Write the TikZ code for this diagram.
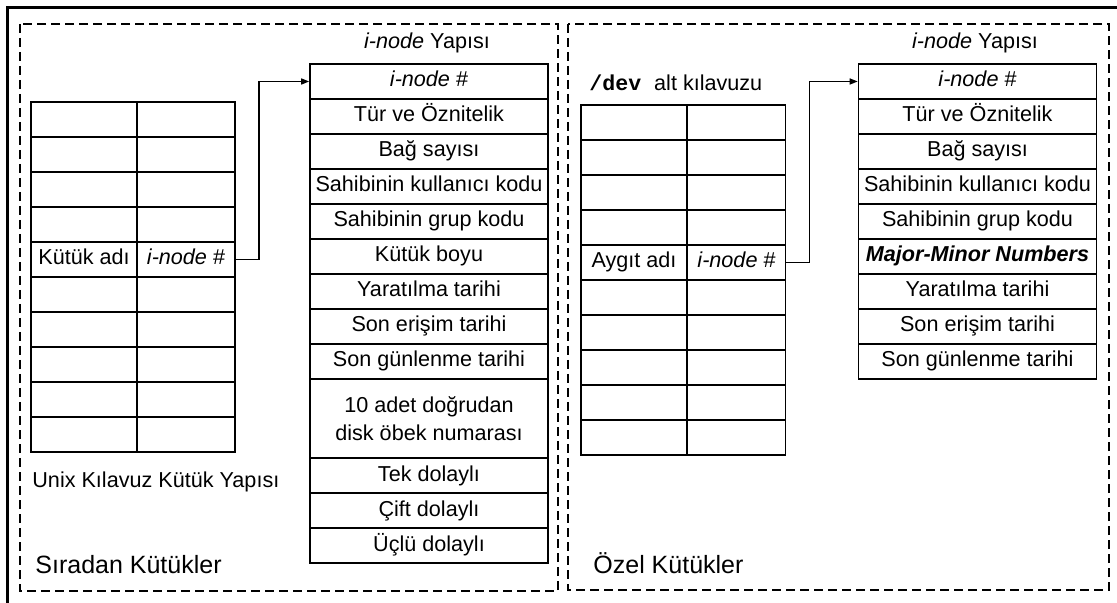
\documentclass[tikz,border=0pt]{standalone}
\usepackage{fontspec}
\setmainfont{Liberation Sans}
\setmonofont{Liberation Mono}
\usetikzlibrary{arrows.meta}

\begin{document}
\begin{tikzpicture}[x=0.5pt, y=-0.5pt,
	every node/.style={font=\fontsize{10.8}{14}\selectfont},
	cell/.style={draw, line width=0.8pt, inner sep=0pt, minimum height=17.5pt},
	row/.style={cell, text height=7.8pt, text depth=2.3pt},
	dirname/.style={row, minimum width=53pt},
	dirnum/.style={row, minimum width=49pt},
	inodefield/.style={row, minimum width=119pt},
	areabox/.style={line width=1pt, dash pattern=on 4.5pt off 2.5pt},
	arealabel/.style={anchor=west, inner sep=0pt, font=\fontsize{12.5}{15}\selectfont},
	pointer/.style={line width=0.7pt, -{Triangle[length=4pt, width=3pt]}}]
	\useasboundingbox (0,0) rectangle (1117,603);

	% outer frame, only the top and left edges fall on the page
	\draw[line width=1.2pt] (7.5,640) -- (7.5,7.5) -- (1140,7.5);

	\begin{scope}
		\draw[areabox] (20,24) rectangle (558,591);
		\node[arealabel] (s1) at (35,565) {Sıradan Kütükler};

		% directory table
		\foreach \r in {1,2,3,4,6,7,8,9,10} {
			\node[dirname] (ka\r) at (84,84.5+35*\r) {};
			\node[dirnum] (kb\r) at (186,84.5+35*\r) {};
		}
		\node[dirname] (ka5) at (84,259.5) {Kütük adı};
		\node[dirnum] (kb5) at (186,259.5) {\textit{i-node} \#};
		\node[anchor=west, inner sep=0pt] (k0) at (32,482) {Unix Kılavuz Kütük Yapısı};

		% i-node fields
		\node (i0) at (427,43) {\textit{i-node} Yapısı};
		\node[inodefield] (i1) at (429,81.5) {\textit{i-node} \#};
		\node[inodefield] (i2) at (429,116.5) {Tür ve Öznitelik};
		\node[inodefield] (i3) at (429,151.5) {Bağ sayısı};
		\node[inodefield] (i4) at (429,186.5) {Sahibinin kullanıcı kodu};
		\node[inodefield] (i5) at (429,221.5) {Sahibinin grup kodu};
		\node[inodefield] (i6) at (429,256.5) {Kütük boyu};
		\node[inodefield] (i7) at (429,291.5) {Yaratılma tarihi};
		\node[inodefield] (i8) at (429,326.5) {Son erişim tarihi};
		\node[inodefield] (i9) at (429,361.5) {Son günlenme tarihi};
		\node[cell, minimum width=119pt, minimum height=39.5pt, align=center] (i10) at (429,418.5) {10 adet doğrudan\\disk öbek numarası};
		\node[inodefield] (i11) at (429,475.5) {Tek dolaylı};
		\node[inodefield] (i12) at (429,510.5) {Çift dolaylı};
		\node[inodefield] (i13) at (429,545.5) {Üçlü dolaylı};

		\draw[pointer] (kb5.east) -- ++(23,0) |- (i1.west);
	\end{scope}

	\begin{scope}
		\draw[areabox] (568,24) rectangle (1109,590);
		\node[arealabel] (s2) at (593,563) {Özel Kütükler};

		% /dev directory table
		\node[anchor=west, inner sep=0pt] (g0) at (589,83) {{\ttfamily\bfseries /dev\ }alt kılavuzu};
		\foreach \r in {1,2,3,4,6,7,8,9,10} {
			\node[dirname] (ga\r) at (634,87.5+35*\r) {};
			\node[dirnum] (gb\r) at (736.5,87.5+35*\r) {};
		}
		\node[dirname] (ga5) at (634,262.5) {Aygıt adı};
		\node[dirnum] (gb5) at (736.5,262.5) {\textit{i-node} \#};

		% i-node fields of a device file
		\node (j0) at (975,43) {\textit{i-node} Yapısı};
		\node[inodefield] (j1) at (977.5,81.5) {\textit{i-node} \#};
		\node[inodefield] (j2) at (977.5,116.5) {Tür ve Öznitelik};
		\node[inodefield] (j3) at (977.5,151.5) {Bağ sayısı};
		\node[inodefield] (j4) at (977.5,186.5) {Sahibinin kullanıcı kodu};
		\node[inodefield] (j5) at (977.5,221.5) {Sahibinin grup kodu};
		\node[inodefield] (j6) at (977.5,256.5) {\bfseries\itshape Major-Minor Numbers};
		\node[inodefield] (j7) at (977.5,291.5) {Yaratılma tarihi};
		\node[inodefield] (j8) at (977.5,326.5) {Son erişim tarihi};
		\node[inodefield] (j9) at (977.5,361.5) {Son günlenme tarihi};

		\draw[pointer] (gb5.east) -- ++(23,0) |- (j1.west);
	\end{scope}
\end{tikzpicture}
\end{document}
